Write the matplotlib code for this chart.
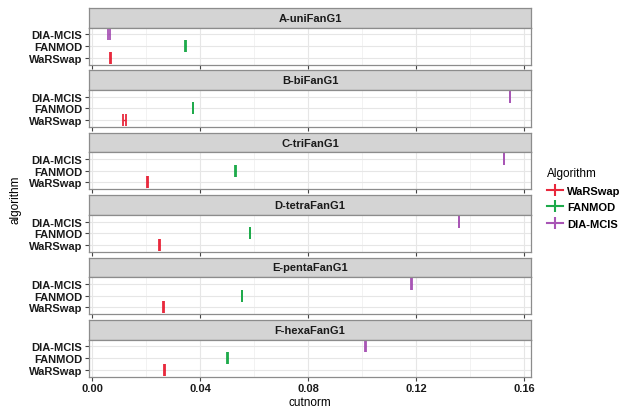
import matplotlib.pyplot as plt
from matplotlib.lines import Line2D
import numpy as np

plt.rcParams['font.family'] = ['Liberation Sans', 'DejaVu Sans']

# facetas (grafos) e algoritmos
grafos = ['A-uniFanG1', 'B-biFanG1', 'C-triFanG1', 'D-tetraFanG1', 'E-pentaFanG1', 'F-hexaFanG1']
algoritmos = ['WaRSwap', 'FANMOD', 'DIA-MCIS']
cores = ['#E8283C', '#1DAA4A', '#A855B5']

# cutnorm de cada algoritmo por grafo
warswap = [0.0069, 0.0120, 0.0204, 0.0249, 0.0265, 0.0267]
fanmod = [0.0346, 0.0375, 0.0531, 0.0585, 0.0556, 0.0501]
diamcis = [0.0063, 0.1548, 0.1526, 0.1360, 0.1184, 0.1014]
# meia largura do intervalo
err_warswap = [0.0002, 0.0006, 0.0002, 0.0002, 0.0002, 0.0002]
err_fanmod = [0.0001, 0.0001, 0.0001, 0.0001, 0.0001, 0.0001]
err_diamcis = [0.0002, 0.0001, 0.0001, 0.0001, 0.0001, 0.0001]

valores = [warswap, fanmod, diamcis]
erros = [err_warswap, err_fanmod, err_diamcis]

W, H = 632, 410
fig = plt.figure(figsize=[W / 100, H / 100], dpi=100)

x0, x1 = 89, 531
topo, passo, strip_h, painel_h = 9, 62.4, 19.5, 37

def caixa(y_top, h):
    return [x0 / W, 1 - (y_top + h) / H, (x1 - x0) / W, h / H]

borda = '#8c8c8c'
for i, g in enumerate(grafos):
    yt = topo + i * passo
    # faixa com o titulo
    st = fig.add_axes(caixa(yt, strip_h))
    st.set_facecolor('#d4d4d4')
    st.set_xticks([]); st.set_yticks([])
    for s in st.spines.values():
        s.set_color(borda); s.set_linewidth(0.9)
    st.text(0.5, 0.5, g, ha='center', va='center', fontsize=8, fontweight='bold', color='#1a1a1a')

    ax = fig.add_axes(caixa(yt + strip_h, painel_h))
    ax.set_xlim(-0.0011, 0.1626)
    ax.set_ylim(0.4, 3.6)
    ax.set_xticks([0, 0.04, 0.08, 0.12, 0.16])
    ax.set_xticks([0.02, 0.06, 0.10, 0.14], minor=True)
    ax.set_yticks([1, 2, 3])
    ax.set_yticklabels(algoritmos, fontsize=8, fontweight='bold', color='#1a1a1a')
    ax.grid(True, which='major', color='#e6e6e6', lw=0.8)
    ax.grid(True, which='minor', axis='x', color='#f0f0f0', lw=0.6)
    ax.set_axisbelow(True)
    ax.tick_params(which='major', length=3, width=0.8, color='#444444', pad=2)
    ax.tick_params(which='minor', length=0)
    for s in ax.spines.values():
        s.set_color(borda); s.set_linewidth(0.9)

    for k in range(3):
        ax.errorbar(valores[k][i], k + 1, xerr=erros[k][i], fmt='none',
                    ecolor=cores[k], elinewidth=1.0, capsize=4, capthick=1.3)

    if i < len(grafos) - 1:
        ax.set_xticklabels([])
    else:
        ax.set_xticklabels(['0.00', '0.04', '0.08', '0.12', '0.16'],
                           fontsize=8, fontweight='bold', color='#1a1a1a')
        ax.set_xlabel('cutnorm', fontsize=8.5, labelpad=2)

fig.text(15 / W, 1 - 200 / H, 'algorithm', rotation=90, ha='center', va='center', fontsize=8.5)

# legenda
handles = [Line2D([0], [0], color=c, lw=1.5, marker='|', markersize=8, markeredgewidth=1.5)
           for c in cores]
leg = fig.legend(handles, algoritmos, title='Algorithm', loc='upper left',
                 bbox_to_anchor=(537 / W, 1 - 158 / H), frameon=False,
                 handlelength=1.4, handletextpad=0.4, labelspacing=0.6,
                 prop={'size': 8, 'weight': 'bold'}, title_fontsize=8.5)
leg._legend_box.align = 'left'

plt.savefig('out.png', dpi=100)
